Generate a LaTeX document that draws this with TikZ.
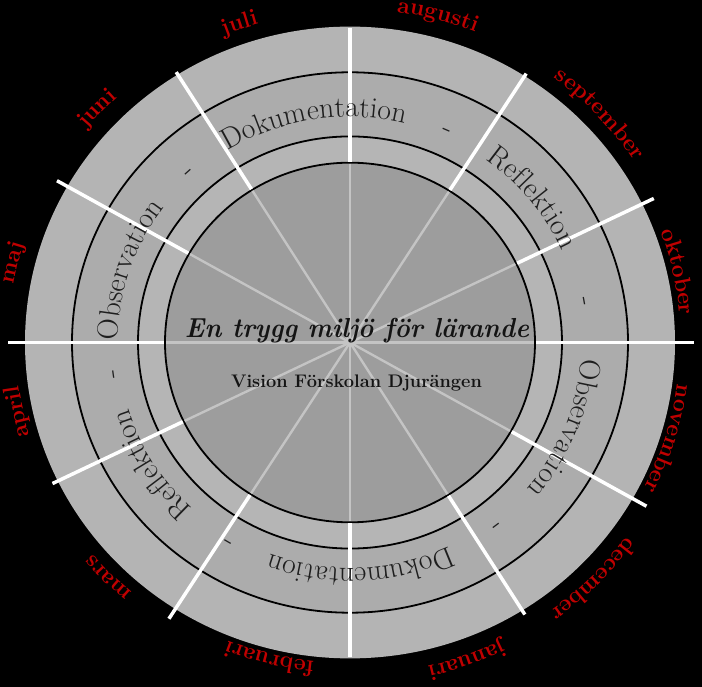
\documentclass[tikz,border=0pt]{standalone}
\usepackage{fontspec}
\usetikzlibrary{decorations.text}
\definecolor{ringA}{RGB}{180,180,180}
\definecolor{ringB}{RGB}{172,172,172}
\definecolor{ringC}{RGB}{181,181,181}
\definecolor{diskcol}{RGB}{157,157,157}
\definecolor{spokein}{RGB}{196,196,196}
\definecolor{monthred}{RGB}{192,0,0}
\definecolor{wordgray}{RGB}{30,30,30}
\newcommand\monthfmt{\color{monthred}\fontsize{23}{23}\selectfont\bfseries}
\newcommand\wordfmt{\color{wordgray}\fontsize{29.5}{29.5}\selectfont}
\newcommand\ringtext[4]{\path[decorate,decoration={text along path,text align=center,text={|#3|#4}}] (#1+70:#2) arc[start angle=#1+70,end angle=#1-70,radius=#2];}
\tikzset{
  blackring/.style={draw=black,line width=1.8pt},
  whitespoke/.style={draw=white,line width=3.5pt},
  greyspoke/.style={draw=spokein,line width=2.4pt},
}
\begin{document}
\begin{tikzpicture}[x=1pt,y=0.972pt]
\fill[black] (-350pt,-344.5pt) rectangle (352pt,342.5pt);
\useasboundingbox (-350pt,-344.5pt) rectangle (352pt,342.5pt);
\coordinate (c) at (0,0);
% rings
\fill[ringA] (c) circle[radius=325];
\fill[ringB] (c) circle[radius=278];
\fill[ringC] (c) circle[radius=212];
\fill[diskcol] (c) circle[radius=185];
\draw[blackring] (c) circle[radius=278];
\draw[blackring] (c) circle[radius=212];
\draw[blackring] (c) circle[radius=185];
% white spokes
\foreach \a/\ro in {26/338, 206/331, 57.5/328, 237.5/337, 122/328, 302/330, 150.4/337, 330.4/341, 0/344, 180/342, 90/324, 270/324}
  {\draw[whitespoke] (\a:186) -- (\a:\ro);}
% grey spokes inside the disk
\foreach \a in {0,26,57.5,90,122,150.4}
  {\draw[greyspoke] (\a:184) -- (\a+180:184);}
% centre text
\node[font=\fontsize{27.5}{27.5}\selectfont\bfseries\itshape, text=black!92, anchor=base, inner sep=0pt] (title) at (7pt,4.5pt) {\scalebox{0.94}[1]{En trygg miljö för lärande}};
\node[font=\fontsize{18.2}{18.2}\selectfont\bfseries, text=black!92, anchor=base, inner sep=0pt] (sub) at (6.5pt,-45.5pt) {Vision Förskolan Djurängen};
% ring words
\ringtext{99.3}{232}{\wordfmt}{Dokumentation}
\ringtext{38.5}{232}{\wordfmt}{Reflektion}
\ringtext{-21.8}{232}{\wordfmt}{Observation}
\ringtext{-87.3}{232}{\wordfmt}{Dokumentation}
\ringtext{211.6}{232}{\wordfmt}{Reflektion}
\ringtext{161.6}{232}{\wordfmt}{Observation}
\foreach \a in {133.4,65.4,9.9,-51.6,238.4,187.6}
  {\ringtext{\a}{232}{\wordfmt}{-}}
% months
\ringtext{109.1}{340}{\monthfmt}{juli}
\ringtext{75}{343}{\monthfmt}{augusti}
\ringtext{42.5}{340}{\monthfmt}{september}
\ringtext{12.2}{331}{\monthfmt}{oktober}
\ringtext{-16.9}{330}{\monthfmt}{november}
\ringtext{-44.3}{341}{\monthfmt}{december}
\ringtext{-69.8}{342}{\monthfmt}{januari}
\ringtext{-104.3}{330}{\monthfmt}{februari}
\ringtext{-135.7}{337}{\monthfmt}{mars}
\ringtext{-168.2}{334}{\monthfmt}{april}
\ringtext{166.7}{341}{\monthfmt}{maj}
\ringtext{137.1}{343}{\monthfmt}{juni}
\end{tikzpicture}
\end{document}
